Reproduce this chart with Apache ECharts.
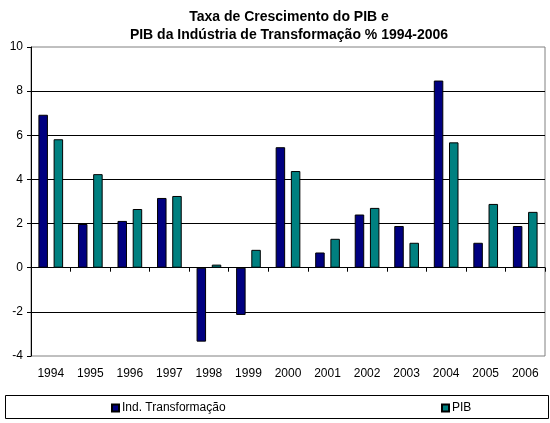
<!DOCTYPE html>
<html>
<head>
<meta charset="utf-8">
<script src="https://cdn.jsdelivr.net/npm/echarts@6/dist/echarts.min.js"></script>
<style>
  html, body { margin: 0; padding: 0; background: #fff; }
  #chart { width: 550px; height: 423px; }
</style>
</head>
<body>
<div id="chart"></div>
<script>
const anos = ['1994', '1995', '1996', '1997', '1998', '1999', '2000', '2001', '2002', '2003', '2004', '2005', '2006'];
const indTransformacao = [6.93, 1.98, 2.12, 3.16, -3.35, -2.14, 5.46, 0.69, 2.41, 1.89, 8.48, 1.13, 1.89];
const pib = [5.82, 4.24, 2.66, 3.25, 0.14, 0.81, 4.38, 1.31, 2.71, 1.13, 5.68, 2.89, 2.53];

const fonte = '"Liberation Sans", Arial, sans-serif';

const chart = echarts.init(document.getElementById('chart'));

const option = {
    backgroundColor: '#fff',
    animation: false,
    title: {
        text: 'Taxa de Crescimento do PIB e\nPIB da Indústria de Transformação % 1994-2006',
        left: 284,
        textAlign: 'center',
        top: 3,
        textStyle: {
            fontFamily: fonte,
            fontSize: 14,
            fontWeight: 'bold',
            color: '#000',
            lineHeight: 18
        }
    },
    grid: {
        left: 31,
        right: 5,
        top: 47,
        bottom: 67,
        show: true,
        borderColor: '#808080',
        borderWidth: 1
    },
    legend: [{
        data: ['Ind. Transformação'],
        left: 106,
        top: 397,
        itemWidth: 7,
        itemHeight: 7,
        icon: 'rect',
        textStyle: { fontFamily: fonte, fontSize: 12, color: '#000', padding: [0, 0, 0, -2] }
    }, {
        data: ['PIB'],
        left: 436,
        top: 397,
        itemWidth: 7,
        itemHeight: 7,
        icon: 'rect',
        textStyle: { fontFamily: fonte, fontSize: 12, color: '#000', padding: [0, 0, 0, -2] }
    }],
    graphic: [{
        type: 'rect',
        shape: { x: 5.5, y: 395.5, width: 543, height: 23 },
        style: { fill: 'none', stroke: '#000', lineWidth: 1 },
        silent: true
    }],
    xAxis: [{
        type: 'category',
        data: anos,
        position: 'bottom',
        axisLine: { onZero: true, lineStyle: { color: '#000', width: 1 } },
        axisTick: { show: true, length: 4, lineStyle: { color: '#000' } },
        axisLabel: { show: false }
    }, {
        type: 'category',
        data: anos,
        position: 'bottom',
        axisLine: { show: false, onZero: false },
        axisTick: { show: false },
        axisLabel: {
            fontFamily: fonte,
            fontSize: 12,
            color: '#000',
            margin: 12
        }
    }],
    yAxis: {
        type: 'value',
        min: -4,
        max: 10,
        interval: 2,
        axisLine: { show: true, lineStyle: { color: '#000' } },
        axisTick: { show: true, length: 4, lineStyle: { color: '#000' } },
        axisLabel: {
            fontFamily: fonte,
            fontSize: 12,
            color: '#000',
            margin: 8
        },
        splitLine: {
            show: true,
            showMinLine: false,
            showMaxLine: false,
            lineStyle: { color: '#000', width: 1 }
        }
    },
    series: [{
        name: 'Ind. Transformação',
        type: 'bar',
        xAxisIndex: 0,
        data: indTransformacao,
        barWidth: 9.5,
        barGap: '60%',
        itemStyle: { color: '#000080', borderColor: '#000', borderWidth: 1 }
    }, {
        name: 'PIB',
        type: 'bar',
        xAxisIndex: 0,
        data: pib,
        barWidth: 9.5,
        barGap: '60%',
        itemStyle: { color: '#008080', borderColor: '#000', borderWidth: 1 }
    }]
};

chart.setOption(option);
</script>
</body>
</html>
